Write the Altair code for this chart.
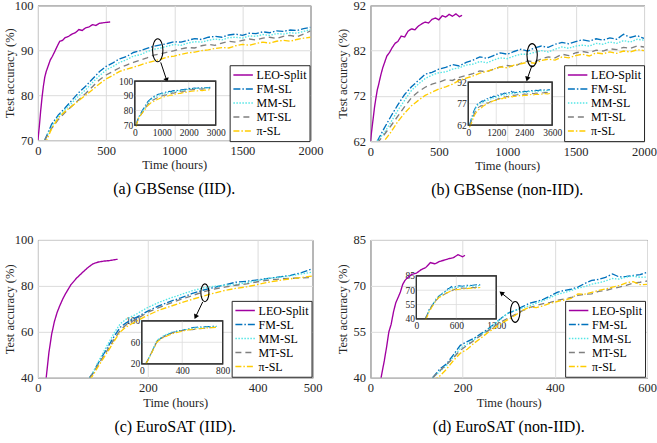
import altair as alt
import pandas as pd

FONT = "Liberation Serif"
SERIES = ["LEO-Split", "FM-SL", "MM-SL", "MT-SL", "π-SL"]
COLORS = ["#A100A1", "#0072BD", "#55E6E6", "#7F7F7F", "#FFCC00"]
DASHES = [[1, 0], [7, 2, 1.5, 2], [1.5, 1.5], [6, 4], [6, 2, 1.5, 2]]
ELLIPSE = ("M0,-1C0.25,-1,0.45,-0.55,0.45,0C0.45,0.55,0.25,1,0,1"
           "C-0.25,1,-0.45,0.55,-0.45,0C-0.45,-0.55,-0.25,-1,0,-1Z")

# ---------------- (a) GBSense IID ----------------
a_leo_t = [0, 10, 20, 30, 40, 50, 60, 75, 90, 105, 120, 140, 160, 180, 200, 225, 250, 275,
           300, 325, 350, 375, 400, 425, 450, 475, 500, 530]
a_leo = [70.0, 73.0, 76.5, 79.5, 82.0, 84.0, 85.2, 86.5, 87.8, 88.6, 89.5, 90.8, 92.0, 92.2,
         92.8, 93.1, 93.6, 93.9, 94.6, 94.4, 95.0, 95.2, 95.7, 95.5, 96.0, 96.1, 96.2, 96.3]
a_t = list(range(50, 2001, 50))
a_fm = [70.0, 73.5, 75.6, 77.2, 78.9, 80.6, 82.0, 83.6, 85.2, 86.4, 87.2, 88.1, 88.6, 89.5,
        89.9, 90.4, 90.9, 91.2, 91.5, 91.9, 91.8, 92.2, 92.6, 92.4, 92.9, 93.1, 92.9, 93.4,
        93.6, 93.3, 93.8, 93.7, 94.1, 93.9, 94.3, 94.2, 94.5, 94.4, 94.8, 95.1]
a_mm = [70.0, 73.0, 75.2, 76.8, 78.3, 79.9, 81.2, 82.8, 84.3, 85.6, 86.4, 87.3, 87.9, 88.7,
        89.0, 89.7, 90.2, 90.5, 90.9, 91.3, 91.1, 91.6, 91.9, 91.8, 92.2, 92.5, 92.3, 92.8,
        92.9, 92.7, 93.2, 93.1, 93.5, 93.3, 93.7, 93.6, 93.9, 93.8, 94.2, 94.6]
a_mt = [70.0, 72.6, 74.6, 76.2, 77.6, 79.0, 80.4, 81.9, 83.4, 84.5, 85.3, 86.1, 86.7, 87.3,
        87.8, 88.3, 88.9, 89.2, 89.6, 89.9, 90.3, 90.6, 90.5, 91.0, 91.3, 91.1, 91.6, 92.0,
        91.8, 92.2, 92.5, 92.3, 92.7, 92.9, 92.6, 93.1, 93.3, 93.0, 93.6, 94.3]
a_pi = [69.0, 72.5, 75.0, 76.4, 77.6, 78.8, 80.0, 81.2, 82.5, 83.6, 84.4, 85.3, 85.8, 86.2,
        86.7, 87.2, 87.6, 88.0, 88.5, 88.7, 89.1, 89.4, 89.6, 89.9, 90.1, 90.4, 90.6, 90.5,
        91.0, 91.3, 91.1, 91.5, 91.8, 91.6, 92.0, 92.2, 92.0, 92.4, 92.7, 92.9]
a_ext_t = [2100, 2200, 2300, 2400, 2500, 2600, 2700, 2800]
a_fm_ext = [95.0, 95.3, 95.2, 95.5, 95.4, 95.7, 95.5, 95.8]
a_mm_ext = [94.7, 94.9, 95.0, 95.2, 95.1, 95.4, 95.3, 95.5]
a_mt_ext = [94.1, 94.4, 94.3, 94.7, 94.6, 94.9, 94.8, 95.0]
a_pi_ext = [93.1, 93.4, 93.3, 93.7, 93.6, 93.9, 94.0, 94.2]

# ---------------- (b) GBSense non-IID ----------------
b_leo_t = [0, 10, 20, 30, 40, 50, 60, 75, 90, 105, 120, 140, 160, 180, 200, 225, 250, 275,
           300, 325, 350, 375, 400, 425, 450, 475, 500, 525, 550, 575, 600, 625, 650, 670]
b_leo = [62.0, 64.5, 67.0, 69.5, 71.5, 73.3, 74.5, 76.5, 78.2, 79.5, 80.8, 81.6, 82.7, 83.6,
         84.0, 85.2, 85.0, 86.3, 86.8, 86.6, 87.4, 87.9, 88.3, 88.1, 88.9, 89.2, 88.8, 89.7,
         89.4, 90.0, 89.6, 90.1, 89.5, 89.8]
b_t = list(range(50, 2001, 50))
b_fm = [62.0, 64.8, 67.5, 70.0, 72.3, 74.0, 75.4, 76.8, 77.2, 77.9, 78.3, 78.9, 78.6, 79.4,
        79.9, 80.6, 80.3, 80.9, 81.5, 81.2, 81.8, 82.3, 81.9, 82.6, 83.0, 82.7, 83.4, 83.8,
        83.5, 84.0, 84.4, 84.1, 84.6, 84.3, 84.8, 84.5, 85.6, 84.9, 85.3, 84.7]
b_mm = [62.0, 63.8, 66.2, 68.8, 71.0, 73.2, 74.6, 75.8, 76.6, 77.1, 77.3, 77.9, 78.2, 78.8,
        79.0, 79.6, 79.3, 79.9, 80.4, 80.2, 80.8, 81.2, 81.2, 81.6, 82.0, 81.7, 82.3, 82.8,
        82.5, 83.0, 83.2, 83.0, 83.6, 83.4, 83.9, 83.6, 84.2, 83.9, 84.5, 84.3]
b_mt = [61.6, 63.4, 65.4, 67.5, 69.6, 71.6, 72.9, 73.9, 74.6, 75.0, 75.6, 75.4, 76.1, 76.5,
        76.9, 77.5, 77.3, 77.9, 78.4, 78.7, 78.5, 79.2, 79.7, 79.5, 80.2, 80.6, 80.4, 81.2,
        80.9, 81.5, 81.8, 81.5, 82.1, 81.9, 82.4, 82.2, 82.7, 82.5, 83.0, 82.8]
b_pi = [60.5, 62.0, 64.0, 66.3, 68.2, 69.8, 71.0, 72.1, 72.8, 73.5, 74.0, 74.6, 75.4, 75.9,
        76.4, 77.0, 77.4, 77.9, 78.4, 78.2, 78.8, 79.1, 79.4, 79.2, 79.8, 80.1, 79.9, 80.6,
        80.4, 80.9, 81.2, 80.8, 81.5, 81.3, 81.7, 81.4, 81.9, 81.7, 82.2, 82.0]
b_ext_t = [2100, 2200, 2300, 2400, 2500, 2600, 2700, 2800, 2900, 3000, 3100, 3200, 3300, 3400, 3500]
b_fm_ext = [85.0, 85.4, 85.1, 85.7, 85.5, 85.9, 86.2, 85.9, 86.4, 86.2, 86.6, 86.3, 86.8, 86.5, 86.9]
b_mm_ext = [84.5, 84.8, 84.6, 85.1, 84.9, 85.4, 85.6, 85.3, 85.8, 85.6, 86.0, 85.8, 86.2, 86.0, 86.3]
b_mt_ext = [83.2, 83.5, 83.3, 83.8, 83.6, 84.0, 84.3, 84.0, 84.5, 84.3, 84.7, 84.5, 84.9, 84.7, 85.0]
b_pi_ext = [82.3, 82.6, 82.4, 82.9, 82.7, 83.1, 83.4, 83.1, 83.6, 83.4, 83.8, 83.6, 84.0, 83.8, 84.1]

# ---------------- (c) EuroSAT IID ----------------
c_leo_t = [15, 20, 25, 30, 35, 40, 45, 50, 55, 60, 70, 80, 90, 100, 110, 120, 130, 145]
c_leo = [40.0, 51.0, 59.0, 64.5, 68.5, 71.5, 74.2, 76.5, 78.5, 80.5, 83.3, 85.6, 87.8, 89.6,
         90.4, 90.8, 91.0, 91.6]
c_t = [94, 100, 110, 120, 130, 140, 150, 160, 170, 180, 200, 220, 240, 260, 280, 300, 320,
       340, 360, 380, 400, 420, 440, 460, 480, 500]
c_fm = [40.0, 42.0, 46.5, 50.5, 54.5, 58.5, 62.0, 63.8, 65.2, 66.4, 69.0, 71.3, 73.2, 74.8,
        76.6, 78.1, 79.3, 80.4, 81.6, 82.0, 82.6, 83.3, 83.9, 84.6, 85.8, 87.5]
c_mm = [40.0, 42.3, 47.0, 51.5, 55.8, 60.0, 63.5, 65.4, 66.6, 67.8, 70.6, 72.8, 74.6, 76.2,
        77.8, 79.1, 79.8, 80.3, 80.6, 81.4, 82.3, 83.3, 83.8, 84.4, 85.2, 86.0]
c_mt = [40.0, 41.8, 45.8, 49.6, 53.3, 57.2, 60.8, 62.9, 64.4, 65.6, 68.5, 70.5, 72.4, 74.1,
        75.7, 77.3, 78.6, 79.5, 80.3, 80.9, 81.8, 82.5, 83.0, 83.3, 83.5, 83.7]
c_pi = [39.0, 41.0, 45.0, 48.8, 52.5, 56.4, 60.0, 62.0, 63.4, 64.7, 67.2, 69.4, 71.0, 72.6,
        74.1, 75.5, 76.8, 78.0, 78.9, 79.6, 80.6, 81.6, 82.4, 83.1, 83.7, 84.3]
c_pre_t = [40, 60, 80]
c_fm_pre = [20.0, 27.0, 34.5]
c_mm_pre = [20.0, 27.2, 34.7]
c_mt_pre = [20.0, 26.8, 34.2]
c_pi_pre = [19.5, 26.2, 33.5]
c_ext_t = [540, 580, 620, 660, 700, 740]
c_fm_ext = [88.0, 88.5, 89.0, 89.3, 89.7, 90.0]
c_mm_ext = [86.8, 87.5, 88.1, 88.6, 89.0, 89.4]
c_mt_ext = [84.5, 85.4, 86.2, 86.9, 87.5, 88.0]
c_pi_ext = [84.9, 85.6, 86.3, 86.9, 87.4, 87.9]

# ---------------- (d) EuroSAT non-IID ----------------
d_leo_t = [23, 30, 35, 40, 45, 50, 55, 60, 65, 70, 75, 80, 90, 100, 110, 120, 130, 140, 150,
           160, 170, 180, 190, 200, 205]
d_leo = [40.0, 45.5, 50.0, 55.0, 57.5, 61.5, 64.5, 66.2, 68.0, 70.5, 71.8, 72.6, 73.8, 74.2,
         75.3, 76.0, 77.6, 77.2, 78.0, 78.4, 78.9, 79.2, 80.2, 79.5, 80.0]
d_t = list(range(135, 601, 15))
d_fm = [40.0, 42.8, 44.5, 47.5, 50.6, 51.8, 52.9, 54.4, 55.9, 57.7, 59.6, 61.2, 62.0, 63.2,
        64.3, 64.9, 65.6, 66.7, 67.9, 68.5, 68.9, 69.6, 70.8, 71.8, 72.1, 72.8, 73.9, 72.9,
        73.1, 73.4, 73.7, 74.4]
d_mm = [40.0, 42.0, 44.0, 46.8, 49.6, 51.0, 52.5, 54.0, 55.6, 57.6, 59.5, 61.3, 62.0, 62.8,
        63.5, 64.4, 65.2, 66.2, 67.2, 67.8, 68.5, 69.2, 69.8, 70.6, 71.0, 71.6, 72.4, 72.2,
        72.9, 73.2, 72.8, 72.9]
d_mt = [40.0, 42.2, 44.3, 46.5, 49.0, 50.6, 52.2, 53.9, 55.3, 56.9, 58.4, 59.6, 60.7, 61.9,
        62.9, 63.6, 64.2, 64.6, 65.3, 65.7, 66.2, 66.9, 67.3, 67.4, 68.2, 68.5, 69.1, 69.6,
        70.2, 70.9, 71.2, 71.6]
d_pi = [39.0, 40.5, 42.8, 45.6, 48.0, 49.3, 51.3, 53.0, 54.8, 56.3, 57.9, 59.1, 60.5, 62.0,
        63.1, 62.9, 63.5, 64.3, 64.9, 65.4, 65.9, 67.4, 67.3, 67.9, 68.5, 69.0, 69.6, 70.1,
        71.0, 71.4, 70.4, 70.5]
d_ext_t = [645, 690, 735, 780, 825, 870, 915, 960]
d_fm_ext = [74.6, 74.2, 74.9, 75.3, 74.9, 75.5, 75.8, 75.4]
d_mm_ext = [73.3, 73.8, 73.5, 74.2, 74.5, 74.1, 74.7, 75.0]
d_mt_ext = [72.0, 72.3, 72.0, 72.6, 72.9, 72.7, 73.2, 73.5]
d_pi_ext = [71.0, 71.6, 71.3, 71.9, 72.2, 72.0, 72.5, 72.8]


def frame_rows(name, ts, vs):
    return [{"t": t, "v": v, "s": name} for t, v in zip(ts, vs)]


def main_df(leo_t, leo, t, fm, mm, mt, pi):
    rows = frame_rows("LEO-Split", leo_t, leo)
    for n, vals in zip(SERIES[1:], [fm, mm, mt, pi]):
        rows += frame_rows(n, t, vals)
    return pd.DataFrame(rows)


def inset_df(pre_t, pres, t, mains, ext_t, exts):
    rows = []
    for i, n in enumerate(SERIES[1:]):
        rows += frame_rows(n, pre_t, pres[i])
        rows += frame_rows(n, t, mains[i])
        rows += frame_rows(n, ext_t, exts[i])
    return pd.DataFrame(rows)


panels = [
    dict(cap="(a) GBSense (IID).", W=273, H=135,
         xdom=[0, 2000], ydom=[70, 100], xt=[0, 500, 1000, 1500, 2000], yt=[70, 80, 90, 100],
         ytp=-2, leg=(192, 60),
         main=main_df(a_leo_t, a_leo, a_t, a_fm, a_mm, a_mt, a_pi),
         ins=inset_df([], [[], [], [], []], a_t, [a_fm, a_mm, a_mt, a_pi], a_ext_t,
                      [a_fm_ext, a_mm_ext, a_mt_ext, a_pi_ext]),
         ixdom=[0, 3000], iydom=[70, 100], ixr=[97, 178], iyr=[120, 76],
         ixt=[0, 1000, 2000, 3000], iyt=[70, 80, 90, 100], igx=[1000, 2000], igy=[80, 90],
         ell=(879, 90.0), ell_size=529, arr=(901, 87.3, 945, 83.3), ang=162),
    dict(cap="(b) GBSense (non-IID).", W=274, H=136,
         xdom=[0, 2000], ydom=[62, 92], xt=[0, 500, 1000, 1500, 2000], yt=[62, 72, 82, 92],
         ytp=3, leg=(194, 60),
         main=main_df(b_leo_t, b_leo, b_t, b_fm, b_mm, b_mt, b_pi),
         ins=inset_df([], [[], [], [], []], b_t, [b_fm, b_mm, b_mt, b_pi], b_ext_t,
                      [b_fm_ext, b_mm_ext, b_mt_ext, b_pi_ext]),
         ixdom=[0, 3600], iydom=[62, 92], ixr=[98, 182], iyr=[120, 77],
         ixt=[0, 1200, 2400, 3600], iyt=[62, 77, 92], igx=[1200, 2400], igy=[77],
         ell=(1182, 81.0), ell_size=529, arr=(1182, 78.8, 1146, 75.7), ang=196),
    dict(cap="(c) EuroSAT (IID).", W=275, H=138,
         xdom=[0, 500], ydom=[40, 100], xt=[0, 200, 400, 500], yt=[40, 60, 80, 100],
         ytp=-2, leg=(194, 61),
         main=main_df(c_leo_t, c_leo, c_t, c_fm, c_mm, c_mt, c_pi),
         ins=inset_df(c_pre_t, [c_fm_pre, c_mm_pre, c_mt_pre, c_pi_pre], c_t,
                      [c_fm, c_mm, c_mt, c_pi], c_ext_t, [c_fm_ext, c_mm_ext, c_mt_ext, c_pi_ext]),
         ixdom=[0, 800], iydom=[20, 100], ixr=[104, 185], iyr=[124, 81],
         ixt=[0, 400, 800], iyt=[20, 60, 100], igx=[400], igy=[60],
         ell=(304, 77.0), ell_size=320, arr=(300, 73.0, 287, 66.5), ang=205),
    dict(cap="(d) EuroSAT (non-IID).", W=277, H=138,
         xdom=[0, 600], ydom=[40, 85], xt=[0, 200, 400, 600], yt=[40, 55, 70, 85],
         ytp=3, leg=(195, 61),
         main=main_df(d_leo_t, d_leo, d_t, d_fm, d_mm, d_mt, d_pi),
         ins=inset_df([], [[], [], [], []], d_t, [d_fm, d_mm, d_mt, d_pi], d_ext_t,
                      [d_fm_ext, d_mm_ext, d_mt_ext, d_pi_ext]),
         ixdom=[0, 1200], iydom=[40, 85], ixr=[46, 126], iyr=[79, 36],
         ixt=[0, 600, 1200], iyt=[40, 55, 70, 85], igx=[600], igy=[55, 70],
         ell=(314, 61.5), ell_size=441, arr=(308, 64.8, 284, 67.7), ang=309),
]


def color_enc(legend):
    return alt.Color("s:N", scale=alt.Scale(domain=SERIES, range=COLORS), legend=legend, title=None)


def dash_enc(legend):
    return alt.StrokeDash("s:N", scale=alt.Scale(domain=SERIES, range=DASHES), legend=legend,
                          title=None)


def make_cell(p):
    xs = alt.Scale(domain=p["xdom"], nice=False, zero=False)
    ys = alt.Scale(domain=p["ydom"], nice=False, zero=False)
    leg = alt.Legend(orient="none", legendX=p["leg"][0], legendY=p["leg"][1], title=None,
                     symbolType="stroke", symbolSize=380, symbolStrokeWidth=1.5,
                     clipHeight=13.5, rowPadding=0, labelFont=FONT, labelFontSize=12,
                     labelColor="black", padding=3, fillColor="white",
                     strokeColor="#262626", labelOffset=3)
    xaxis = alt.Axis(values=p["xt"], title="Time (hours)", grid=True, gridColor="#dcdcdc",
                     domain=False, ticks=False, labelFont=FONT, labelFontSize=12.5,
                     labelColor="#262626", labelPadding=4, labelFlush=False,
                     labelOverlap=False, titleFont=FONT, titleFontSize=12.5,
                     titleFontWeight="normal", titleColor="#262626", titlePadding=2,
                     format="d")
    yaxis = alt.Axis(values=p["yt"], title="Test accuracy (%)", grid=True,
                     gridColor="#dcdcdc", domain=False, ticks=False, labelFont=FONT,
                     labelFontSize=12.5, labelColor="#262626", labelPadding=5,
                     labelFlush=False, labelOverlap=False, titleFont=FONT,
                     titleFontSize=12.5, titleFontWeight="normal", titleColor="#262626",
                     titlePadding=p["ytp"], format="d")
    X = lambda f: alt.X(f, scale=xs, axis=xaxis)
    Y = lambda f: alt.Y(f, scale=ys, axis=yaxis)

    lines = alt.Chart(p["main"]).mark_line(strokeWidth=1.35, clip=True).encode(
        x=X("t:Q"), y=Y("v:Q"), color=color_enc(leg), strokeDash=dash_enc(leg))
    ell_df = pd.DataFrame({"t": [p["ell"][0]], "v": [p["ell"][1]]})
    ell = alt.Chart(ell_df).mark_point(shape=ELLIPSE, size=p["ell_size"], filled=False,
                                       color="black", strokeWidth=1.1, opacity=1).encode(
        x=X("t:Q"), y=Y("v:Q"))
    a = p["arr"]
    arr_df = pd.DataFrame({"t": [a[0]], "v": [a[1]], "t2": [a[2]], "v2": [a[3]]})
    arr = alt.Chart(arr_df).mark_rule(color="black", strokeWidth=1).encode(
        x=X("t:Q"), y=Y("v:Q"), x2="t2:Q", y2="v2:Q")
    head = alt.Chart(arr_df).mark_point(shape="triangle-up", filled=True, color="black",
                                        size=30, angle=p["ang"], opacity=1).encode(
        x=X("t2:Q"), y=Y("v2:Q"))
    main = alt.layer(lines, ell, arr, head)

    ixs = alt.Scale(domain=p["ixdom"], range=p["ixr"], nice=False, zero=False)
    iys = alt.Scale(domain=p["iydom"], range=p["iyr"], nice=False, zero=False)
    ixaxis = alt.Axis(values=p["ixt"], title=None, orient="bottom", offset=p["iyr"][0] - p["H"],
                      grid=False, domain=False, ticks=False, labelFont=FONT, labelFontSize=9.5,
                      labelColor="#262626", labelPadding=2, labelFlush=False,
                      labelOverlap=False, format="d")
    iyaxis = alt.Axis(values=p["iyt"], title=None, orient="left", offset=-p["ixr"][0],
                      grid=False, domain=False, ticks=False, labelFont=FONT, labelFontSize=9.5,
                      labelColor="#262626", labelPadding=2, labelFlush=False,
                      labelOverlap=False, format="d")
    IX = lambda f: alt.X(f, scale=ixs, axis=ixaxis)
    IY = lambda f: alt.Y(f, scale=iys, axis=iyaxis)

    box_df = pd.DataFrame({"x0": [p["ixdom"][0]], "x1": [p["ixdom"][1]],
                           "y0": [p["iydom"][0]], "y1": [p["iydom"][1]]})
    box = alt.Chart(box_df).mark_rect(fill="white", stroke="#333333", strokeWidth=1.2).encode(
        x=IX("x0:Q"), x2="x1:Q", y=IY("y0:Q"), y2="y1:Q")
    gv_df = pd.DataFrame({"x0": p["igx"], "y0": [p["iydom"][0]] * len(p["igx"]),
                          "y1": [p["iydom"][1]] * len(p["igx"])})
    gv = alt.Chart(gv_df).mark_rule(color="#dcdcdc", strokeWidth=0.8).encode(
        x=IX("x0:Q"), y=IY("y0:Q"), y2="y1:Q")
    gh_df = pd.DataFrame({"y0": p["igy"], "x0": [p["ixdom"][0]] * len(p["igy"]),
                          "x1": [p["ixdom"][1]] * len(p["igy"])})
    gh = alt.Chart(gh_df).mark_rule(color="#dcdcdc", strokeWidth=0.8).encode(
        y=IY("y0:Q"), x=IX("x0:Q"), x2="x1:Q")
    ilines = alt.Chart(p["ins"]).mark_line(strokeWidth=1.1).encode(
        x=IX("t:Q"), y=IY("v:Q"), color=color_enc(None), strokeDash=dash_enc(None))
    frame = alt.Chart(box_df).mark_rect(fillOpacity=0, stroke="#333333", strokeWidth=1.2).encode(
        x=IX("x0:Q"), x2="x1:Q", y=IY("y0:Q"), y2="y1:Q")
    inset = alt.layer(box, gv, gh, ilines, frame)

    return alt.layer(main, inset).resolve_scale(
        x="independent", y="independent", color="independent", strokeDash="independent"
    ).properties(
        width=p["W"], height=p["H"],
        title=alt.TitleParams(p["cap"], orient="bottom", anchor="middle", frame="group",
                              font=FONT, fontSize=16, fontWeight="normal", color="black",
                              offset=10))


cells = [make_cell(p) for p in panels]
chart = alt.concat(*cells, columns=2, spacing={"row": 99, "column": 58}, bounds="flush"
                   ).resolve_scale(color="independent", strokeDash="independent"
                   ).configure(padding={"left": 2, "top": -2, "right": 0, "bottom": 0},
                               background="white", font=FONT
                   ).configure_view(stroke="#262626", strokeWidth=1)

chart.save("out.html", embed_options={"renderer": "svg", "actions": False})
